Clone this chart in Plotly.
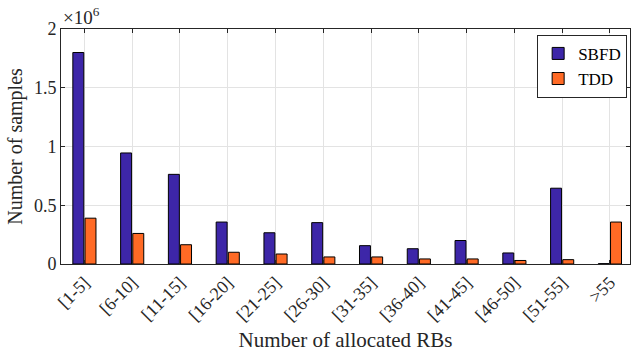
import plotly.graph_objects as go

categories = ["[1-5]", "[6-10]", "[11-15]", "[16-20]", "[21-25]", "[26-30]",
              "[31-35]", "[36-40]", "[41-45]", "[46-50]", "[51-55]", ">55"]
sbfd = [1.80e6, 0.945e6, 0.763e6, 0.357e6, 0.266e6, 0.352e6,
        0.156e6, 0.130e6, 0.200e6, 0.094e6, 0.645e6, 0.003e6]
tdd = [0.390e6, 0.260e6, 0.164e6, 0.100e6, 0.085e6, 0.060e6,
       0.060e6, 0.043e6, 0.043e6, 0.030e6, 0.037e6, 0.357e6]
y_ticks = [0, 0.5e6, 1.0e6, 1.5e6, 2.0e6]
y_ticktext = ["0", "0.5", "1", "1.5", "2"]

FONT = "Liberation Serif"
x_idx = list(range(len(categories)))

fig = go.Figure()
fig.add_trace(go.Bar(x=x_idx, y=sbfd, name="SBFD",
                     marker=dict(color="#3D26A8", line=dict(color="#000000", width=1))))
fig.add_trace(go.Bar(x=x_idx, y=tdd, name="TDD",
                     marker=dict(color="#FF6A25", line=dict(color="#000000", width=1))))

fig.update_layout(
    width=631, height=353,
    margin=dict(l=61, r=1, t=29, b=89),
    paper_bgcolor="white", plot_bgcolor="white",
    barmode="group", bargap=0.49, bargroupgap=0.1,
    font=dict(family=FONT, size=17, color="#262626"),
    showlegend=True,
    legend=dict(x=0.995, y=0.975, xanchor="right", yanchor="top",
                bgcolor="white", bordercolor="#262626", borderwidth=1,
                font=dict(family=FONT, size=17, color="#000000"),
                tracegroupgap=0, itemwidth=30),
    xaxis=dict(
        range=[-0.49, 11.42],
        tickmode="array", tickvals=x_idx, ticktext=categories,
        tickangle=-45, ticks="inside", ticklen=4, tickcolor="#262626",
        showline=True, linecolor="#262626", linewidth=1, mirror="ticks",
        showgrid=True, gridcolor="#E3E3E3", gridwidth=1,
        zeroline=False,
        tickfont=dict(family=FONT, size=18, color="#262626"),
        title=dict(text="Number of allocated RBs", standoff=8,
                   font=dict(family=FONT, size=21, color="#262626")),
    ),
    yaxis=dict(
        range=[0, 2.0e6],
        tickmode="array", tickvals=y_ticks, ticktext=y_ticktext,
        ticks="inside", ticklen=4, tickcolor="#262626",
        showline=True, linecolor="#262626", linewidth=1, mirror="ticks",
        showgrid=True, gridcolor="#E3E3E3", gridwidth=1,
        zeroline=False,
        tickfont=dict(family=FONT, size=18, color="#262626"),
        title=dict(text="Number of samples", standoff=5,
                   font=dict(family=FONT, size=20, color="#262626")),
    ),
    annotations=[dict(
        text="×10<sup>6</sup>", xref="paper", yref="paper", x=0.0, y=1.0,
        xanchor="left", yanchor="bottom", showarrow=False, yshift=-1,
        font=dict(family=FONT, size=19, color="#262626"),
    )],
)

fig.write_html("out.html", config={"displayModeBar": False},
               post_script="document.body.style.margin='0';document.body.style.padding='0';")
